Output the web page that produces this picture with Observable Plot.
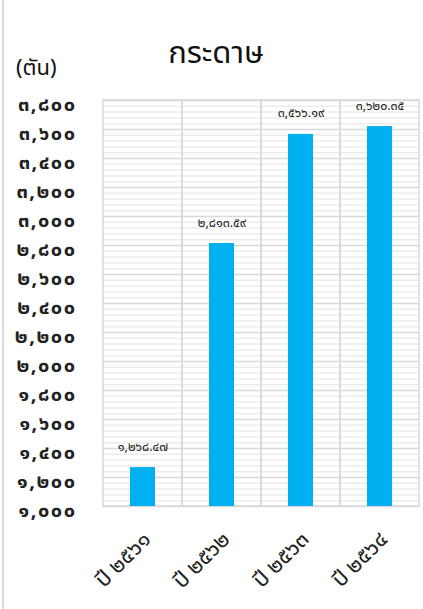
<!DOCTYPE html>
<html><head><meta charset="utf-8">
<script src="https://cdn.jsdelivr.net/npm/d3@7"></script>
<script src="https://cdn.jsdelivr.net/npm/@observablehq/plot@0.6"></script>
<style>
body{margin:0;background:#fff;}
#wrap{position:relative;width:423px;height:609px;overflow:hidden;font-family:Tahoma,"Noto Sans Thai","Noto Sans",sans-serif;}
#wrap::before{content:"";position:absolute;left:2px;top:0;bottom:0;border-left:2px solid #d9d9d9;}
#title{position:absolute;left:0;width:432px;top:30px;text-align:center;font-size:31px;color:#111;}
#unit{position:absolute;left:16px;top:52px;font-size:22px;color:#111;}
</style></head>
<body>
<div id="wrap"><div id="title">กระดาษ</div><div id="unit">(ตัน)</div></div>
<script>
const years = ["ปี ๒๕๖๑","ปี ๒๕๖๒","ปี ๒๕๖๓","ปี ๒๕๖๔"];
const values = [1268.47, 2813.59, 3566.19, 3620.35];
const yMin = 1000, yMax = 3800, yStep = 200, yMinorStep = 40;

const thai = s => String(s).replace(/\d/g, d => "๐๑๒๓๔๕๖๗๘๙"[d]);
const data = years.map((y,i)=>({year:y, value:values[i]}));
const majors = d3.range(yMin, yMax+1, yStep);
const minors = d3.range(yMin, yMax+1, yMinorStep).filter(v => v % yStep !== 0);
const fmt = d3.format(",.2f");

const chart = Plot.plot({
  width: 423, height: 609,
  marginLeft: 102, marginRight: 4, marginTop: 100, marginBottom: 103,
  style: {fontFamily: 'Tahoma,"Noto Sans Thai","Noto Sans",sans-serif', background: "transparent"},
  x: {domain: years, padding: 0, label: null},
  y: {domain: [yMin, yMax], label: null},
  marks: [
    Plot.ruleY(minors, {stroke: "#ececec", strokeWidth: 1.5}),
    Plot.ruleY(majors, {stroke: "#d9d9d9", strokeWidth: 1.5}),
    Plot.barY(years, {x: d => d, y1: () => yMin, y2: () => yMax, fill: "none", stroke: "#d9d9d9", strokeWidth: 1.5}),
    Plot.barY(data, {x: "year", y1: () => yMin, y2: "value", fill: "#00B0F0", insetLeft: 27, insetRight: 27}),
    Plot.text(data, {x: "year", y: "value", text: d => thai(fmt(d.value)), dy: -21, fontSize: 12.5, fill: "#222"}),
    Plot.axisY(majors, {tickSize: 0, tickPadding: 0, dx: -26, dy: 4, fontSize: 20, fontWeight: "bold", fill: "#222", tickFormat: d => thai(d3.format(",")(d))}),
    Plot.axisX({tickSize: 0, tickRotate: -45, tickPadding: 29, dx: 4, fontSize: 22, fill: "#222"})
  ]
});
chart.querySelectorAll('[aria-label="y-axis tick label"] text').forEach(t => t.setAttribute("letter-spacing", "1.5"));
document.getElementById("wrap").prepend(chart);
</script>
</body></html>
